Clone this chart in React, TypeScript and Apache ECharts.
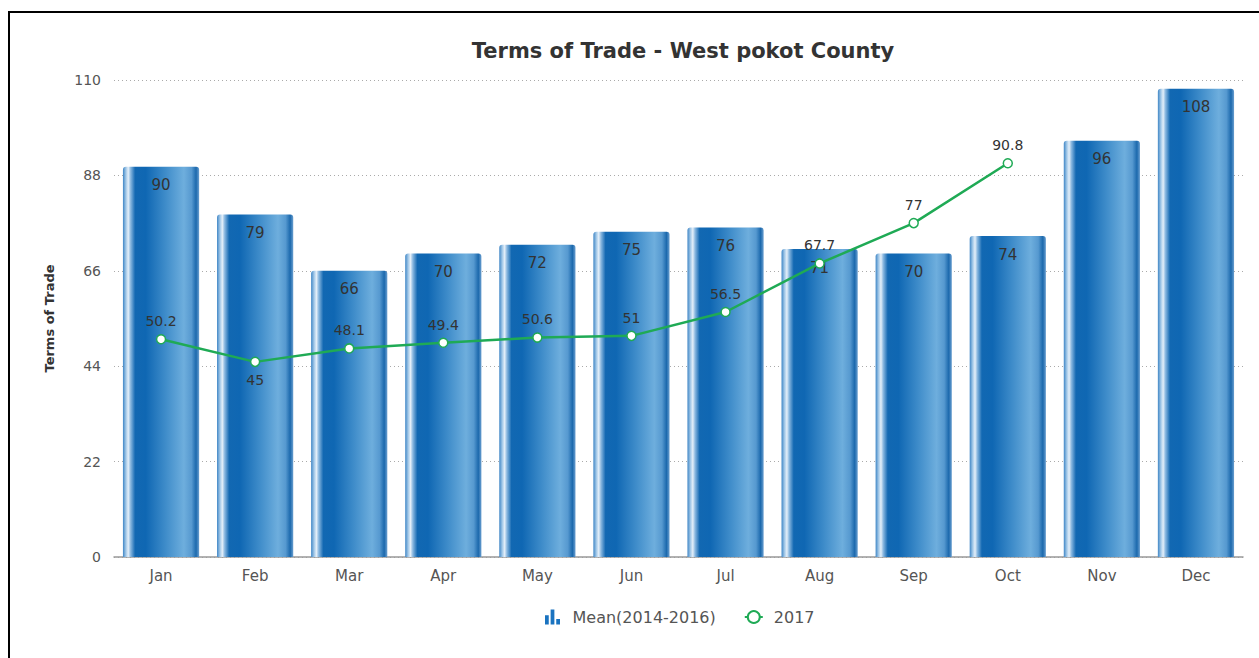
import React, { useEffect, useRef } from "react";
import * as echarts from "echarts";

const months = ["Jan", "Feb", "Mar", "Apr", "May", "Jun", "Jul", "Aug", "Sep", "Oct", "Nov", "Dec"];
const meanValues = [90, 79, 66, 70, 72, 75, 76, 71, 70, 74, 96, 108];
const values2017: (number | null)[] = [50.2, 45, 48.1, 49.4, 50.6, 51, 56.5, 67.7, 77, 90.8, null, null];
const yTicks = [0, 22, 44, 66, 88, 110];

export default function App() {
  const ref = useRef<HTMLDivElement>(null);
  useEffect(() => {
    if (!ref.current) return;
    const chart = echarts.init(ref.current, undefined, { renderer: "svg" });
    const barGradient = new echarts.graphic.LinearGradient(0, 0, 1, 0, [
      { offset: 0, color: "#3f86c6" },
      { offset: 0.04, color: "#a4c9e8" },
      { offset: 0.07, color: "#e4eff9" },
      { offset: 0.1, color: "#8ab8e0" },
      { offset: 0.16, color: "#1268b2" },
      { offset: 0.3, color: "#0f67b3" },
      { offset: 0.55, color: "#3d8bc9" },
      { offset: 0.8, color: "#6eaedd" },
      { offset: 0.9, color: "#5699d0" },
      { offset: 0.96, color: "#1c69ad" },
      { offset: 1, color: "#6a9fd0" },
    ]);
    chart.setOption({
      animation: false,
      textStyle: { fontFamily: "DejaVu Sans, sans-serif" },
      title: {
        text: "Terms of Trade - West pokot County",
        left: 678,
        textAlign: "center",
        top: 35,
        textStyle: { fontSize: 21, fontWeight: "bold", color: "#333" },
      },
      legend: {
        bottom: 28,
        left: 540,
        itemGap: 28,
        itemWidth: 18,
        itemHeight: 15,
        textStyle: { fontSize: 16, color: "#555", padding: [0, 0, 0, 6] },
        data: [
          {
            name: "Mean(2014-2016)",
            icon: "path://M0,6h4v10h-4z M6,0h4v16h-4z M12,10h4v6h-4z",
            itemStyle: { color: "#1a73c0" },
          },
          { name: "2017" },
        ],
      },
      grid: { left: 114, right: 16, top: 80, bottom: 101 },
      xAxis: {
        type: "category",
        data: months,
        axisLine: { lineStyle: { color: "#999", width: 1.5 } },
        axisTick: { show: false },
        axisLabel: { color: "#555", fontSize: 15, margin: 11 },
      },
      yAxis: {
        type: "value",
        min: 0,
        max: 110,
        interval: 22,
        name: "Terms of Trade",
        nameLocation: "middle",
        nameGap: 58,
        nameTextStyle: { fontWeight: "bold", fontSize: 13, color: "#333" },
        axisLabel: {
          color: "#555",
          fontSize: 14,
          margin: 13,
          formatter: (v: number) => (yTicks.includes(v) ? String(v) : ""),
        },
        axisLine: { show: false },
        axisTick: { show: false },
        splitLine: { lineStyle: { color: "#aaa", type: [1, 3], width: 1 } },
      },
      series: [
        {
          name: "Mean(2014-2016)",
          type: "bar",
          data: meanValues,
          barWidth: "81%",
          itemStyle: { color: barGradient, borderRadius: [3, 3, 0, 0] },
          label: {
            show: true,
            position: "insideTop",
            distance: 11,
            color: "#333",
            fontSize: 15,
          },
          z: 2,
        },
        {
          name: "2017",
          type: "line",
          data: values2017.map((v, i) =>
            i === 1 ? { value: v, label: { position: "bottom" } } : v
          ),
          symbol: "circle",
          symbolSize: 9,
          lineStyle: { color: "#1faa55", width: 2.5 },
          itemStyle: { color: "#ffffff", borderColor: "#1faa55", borderWidth: 1.5 },
          label: { show: true, position: "top", distance: 6, color: "#333", fontSize: 14 },
          z: 3,
        },
      ],
    });
    return () => chart.dispose();
  }, []);
  return (
    <div style={{ position: "fixed", left: 0, top: 0, width: 1259, height: 658, background: "#fff" }}>
      <div
        style={{
          position: "absolute",
          left: 8,
          top: 11,
          right: 0,
          bottom: 0,
          borderLeft: "2px solid #000",
          borderTop: "2px solid #000",
        }}
      />
      <div ref={ref} style={{ position: "absolute", left: 0, top: 0, width: 1259, height: 658 }} />
    </div>
  );
}
